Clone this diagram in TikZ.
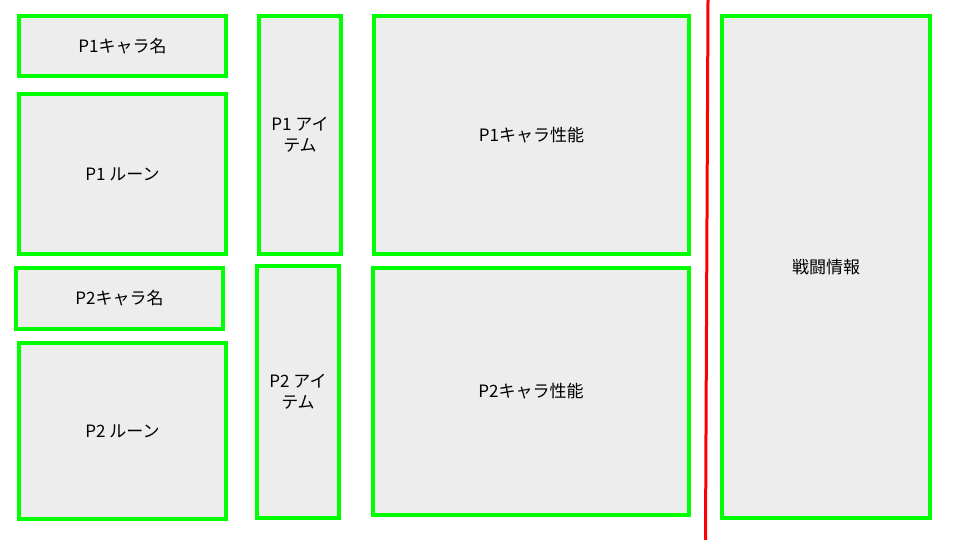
\documentclass[tikz,border=0pt]{standalone}
\usepackage{fontspec}
\setmainfont{Noto Sans CJK JP}

\begin{document}
\begin{tikzpicture}
[
	x=1pt,
	y=-1pt,
	panel/.style={rectangle,draw=green,fill=black!7,line width=4pt,inner sep=0pt,align=center,font=\fontsize{17}{21}\selectfont},
	divider/.style={red,line width=3pt}
]

	% canvas
	\useasboundingbox (0,0) rectangle (960,540);

	% player 1
	\node[panel,minimum width=207,minimum height=60] at (122.5,46) (p1name) {P1キャラ名};
	\node[panel,minimum width=207,minimum height=160] at (122.5,174) (p1rune) {P1 ルーン};
	\node[panel,minimum width=82,minimum height=238] at (300,135) (p1item) {P1 アイ\\テム};
	\node[panel,minimum width=315,minimum height=238] at (531.5,135) (p1stat) {P1キャラ性能};

	% player 2
	\node[panel,minimum width=207,minimum height=61] at (119.5,298.5) (p2name) {P2キャラ名};
	\node[panel,minimum width=207,minimum height=176] at (122.5,431) (p2rune) {P2 ルーン};
	\node[panel,minimum width=82,minimum height=252] at (298,392) (p2item) {P2 アイ\\テム};
	\node[panel,minimum width=316,minimum height=247] at (531,391.5) (p2stat) {P2キャラ性能};

	% battle info
	\node[panel,minimum width=208,minimum height=502] at (826,267) (battle) {戦闘情報};

	% divider
	\coordinate (divtop) at (708,0);
	\coordinate (divbot) at (705.5,540);
	\draw[divider] (divtop) -- (divbot);

\end{tikzpicture}
\end{document}
